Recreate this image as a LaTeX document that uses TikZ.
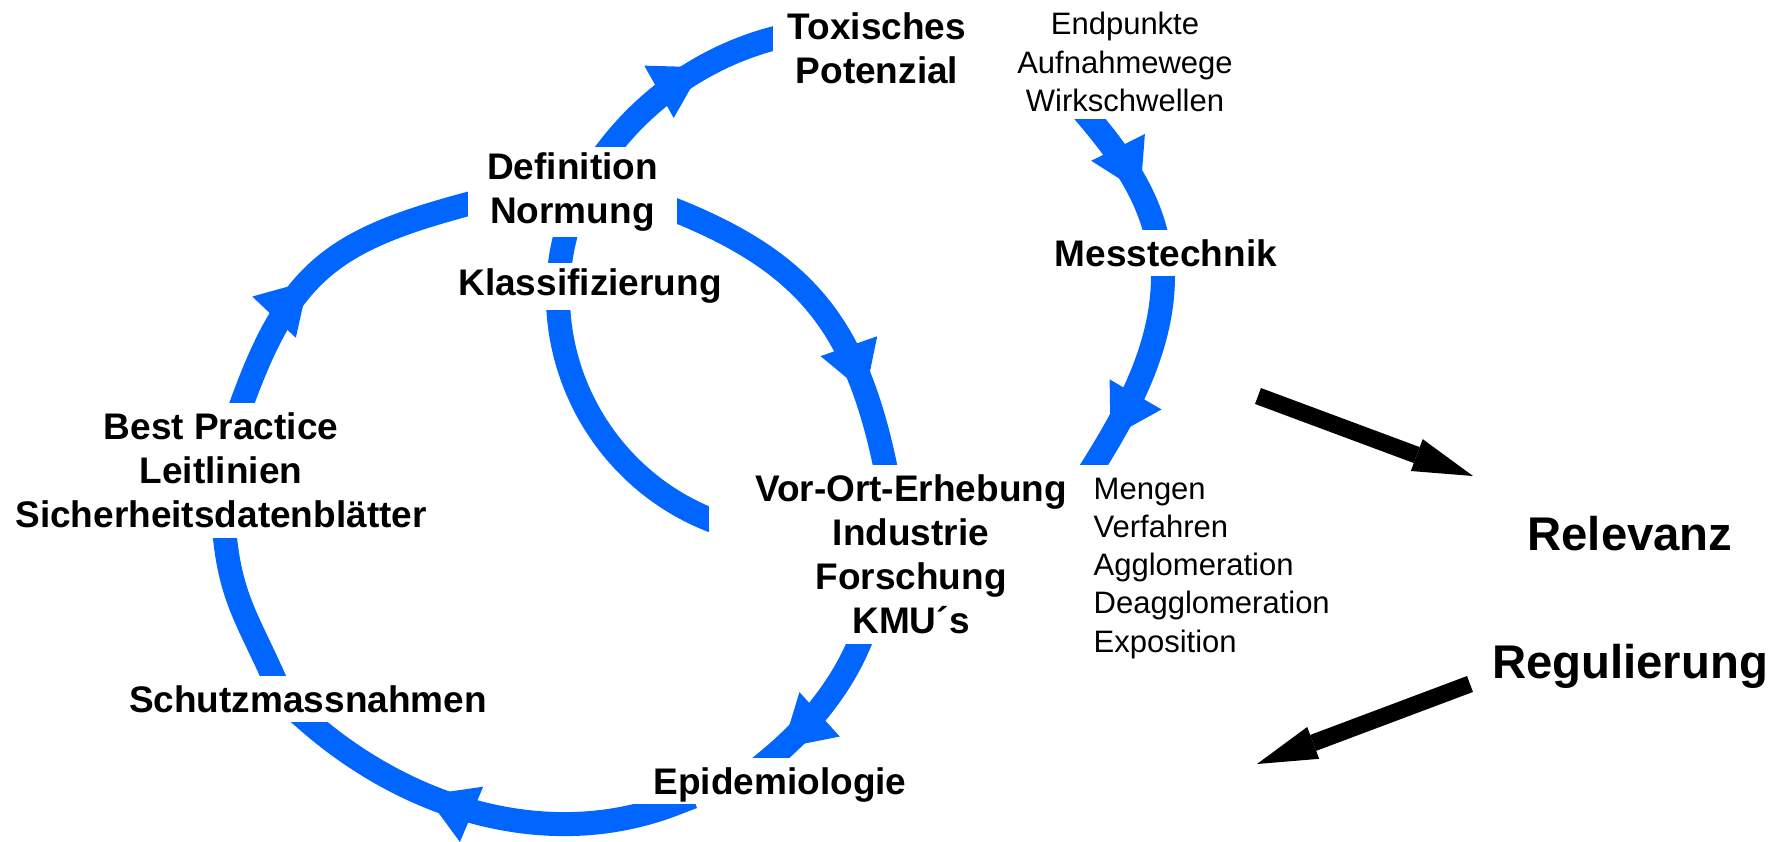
\documentclass[tikz,border=0pt]{standalone}
\usepackage{fontspec}
\setmainfont{Liberation Sans}
\usetikzlibrary{arrows.meta,decorations.markings}
\definecolor{flowblue}{RGB}{0,102,255}

\begin{document}
\begin{tikzpicture}[x=0.1mm, y=-0.1mm,
  flow/.style={draw=flowblue, line width=2.4mm},
  flowtip/.style={postaction={decorate}, decoration={markings,
    mark=at position #1 with {\arrow{Triangle[length=5mm,width=6mm,line width=0pt,color=flowblue]}}}},
  termbox/.style={fill=white, inner sep=0pt, align=center,
    font=\fontsize{10.53pt}{12.52pt}\selectfont\bfseries},
  notebox/.style={inner sep=0pt, align=center,
    font=\fontsize{8.82pt}{10.9pt}\selectfont},
  bigword/.style={inner sep=0pt, anchor=base,
    font=\fontsize{13.46pt}{16pt}\selectfont\bfseries},
  relarrow/.style={draw=black, line width=1.7mm,
    -{Triangle[length=6mm,width=3.4mm,line width=0pt]}}]

\useasboundingbox (0,0) rectangle (1787,842);

% where the blue bands leave and enter the text boxes
\coordinate (bp-n) at (242,403);
\coordinate (bp-s) at (225,538);
\coordinate (def-w) at (468,204);
\coordinate (def-n) at (610,147);
\coordinate (def-e) at (677,211);
\coordinate (def-s) at (568.6,224.2);
\coordinate (tox-w) at (773,38.6);
\coordinate (endp-s) at (1090,119);
\coordinate (mess-n) at (1155,230);
\coordinate (mess-s) at (1163,276);
\coordinate (vor-n) at (885,465);
\coordinate (vor-ne) at (1094,465);
\coordinate (vor-w) at (737.4,528.8);
\coordinate (vor-s) at (859,644);
\coordinate (epi-n) at (771,758);
\coordinate (epi-w) at (674,804);
\coordinate (schutz-s) at (309,722);
\coordinate (schutz-n) at (273,676);

% outer loop
\draw[flow, flowtip=16mm] ([shift={(-6.8,18.8)}]bp-n) -- (bp-n)
  .. controls +(47.9,-131.6) and +(-135.2,36.2) .. (def-w) -- ([shift={(19.3,-5.2)}]def-w);
\draw[flow, flowtip=29.2mm] ([shift={(-18.5,-7.5)}]def-e) -- (def-e)
  .. controls +(129.8,52.4) and +(-29.1,-136.9) .. (vor-n) -- ([shift={(4.2,19.6)}]vor-n);
\draw[flow, flowtip=15mm] ([shift={(7.8,-18.4)}]vor-s) -- (vor-s)
  .. controls +(-19,44.7) and +(37.2,-31.2) .. (epi-n) -- ([shift={(-15.3,12.9)}]epi-n);
\draw[flow, flowtip=27.5mm] ([shift={(18.7,-7.2)}]epi-w) -- (epi-w)
  .. controls +(-125.1,48) and +(101.1,87.9) .. (schutz-s) -- ([shift={(-15.1,-13.1)}]schutz-s);
\draw[flow] ([shift={(8.2,18.2)}]schutz-n) -- (schutz-n)
  .. controls +(-24.6,-54.7) and +(6.3,59.7) .. (bp-s) -- ([shift={(-2.1,-19.9)}]bp-s);

% inner arc and the branch to the right
\draw[flow] (def-s) .. controls +(-40.1,131) and +(-132.3,-35.5) .. (vor-w);
\draw[flow, flowtip=14.3mm] ([shift={(-12.3,15.8)}]def-n) -- (def-n)
  .. controls +(41.2,-52.8) and +(-64.7,17.3) .. (tox-w) -- ([shift={(19.3,-5.2)}]tox-w);
\draw[flow, flowtip=10.9mm] ([shift={(-12.9,-15.3)}]endp-s) -- (endp-s)
  .. controls +(27.9,33.2) and +(-11.2,-41.9) .. (mess-n) -- ([shift={(5.2,19.3)}]mess-n);
\draw[flow, flowtip=19.2mm] ([shift={(0,-20)}]mess-s) -- (mess-s)
  .. controls +(0,68.3) and +(36.2,-57.9) .. (vor-ne) -- ([shift={(-10.6,17)}]vor-ne);

% text boxes
\node[termbox, minimum width=20.8mm, minimum height=9.6mm] (tox) at (877,48) {Toxisches\\Potenzial};
\node[notebox, fill=white, minimum width=24mm, minimum height=11.4mm] (endp) at (1125,62)
  {Endpunkte\\Aufnahmewege\\Wirkschwellen};
\node[termbox, minimum width=24mm, minimum height=4.6mm] (mess) at (1166,253) {Messtechnik};
\node[termbox, minimum width=20.9mm, minimum height=9mm] (def) at (572.5,192) {Definition\\Normung};
\node[termbox, minimum width=28mm, minimum height=4.7mm] (klass) at (590,286.5) {Klassifizierung};
\node[termbox, minimum width=43mm, minimum height=13.5mm] (bp) at (221,470.5)
  {Best Practice\\Leitlinien\\Sicherheitsdatenblätter};
\node[termbox, minimum width=37.7mm, minimum height=4.6mm] (schutz) at (308,699) {Schutzmassnahmen};
\node[termbox, minimum width=40.4mm, minimum height=17.9mm] (vor) at (911,554.5)
  {Vor-Ort-Erhebung\\Industrie\\Forschung\\KMU´s};
\node[termbox, minimum width=30mm, minimum height=4.6mm, text depth=0pt] (epi) at (780,781) {Epidemiologie};
\node[notebox, align=left, anchor=north west] (mengen) at (1093,477)
  {Mengen\\Verfahren\\Agglomeration\\Deagglomeration\\Exposition};

% relevance and regulation
\node[bigword] (rel) at (1630,550) {Relevanz};
\node[bigword] (reg) at (1630,678) {Regulierung};
\coordinate (rel-from) at (1258,396);
\coordinate (rel-to) at (1473,476);
\coordinate (reg-from) at (1470,684);
\coordinate (reg-to) at (1257,764);
\draw[relarrow] (rel-from) -- (rel-to);
\draw[relarrow] (reg-from) -- (reg-to);

\end{tikzpicture}
\end{document}
